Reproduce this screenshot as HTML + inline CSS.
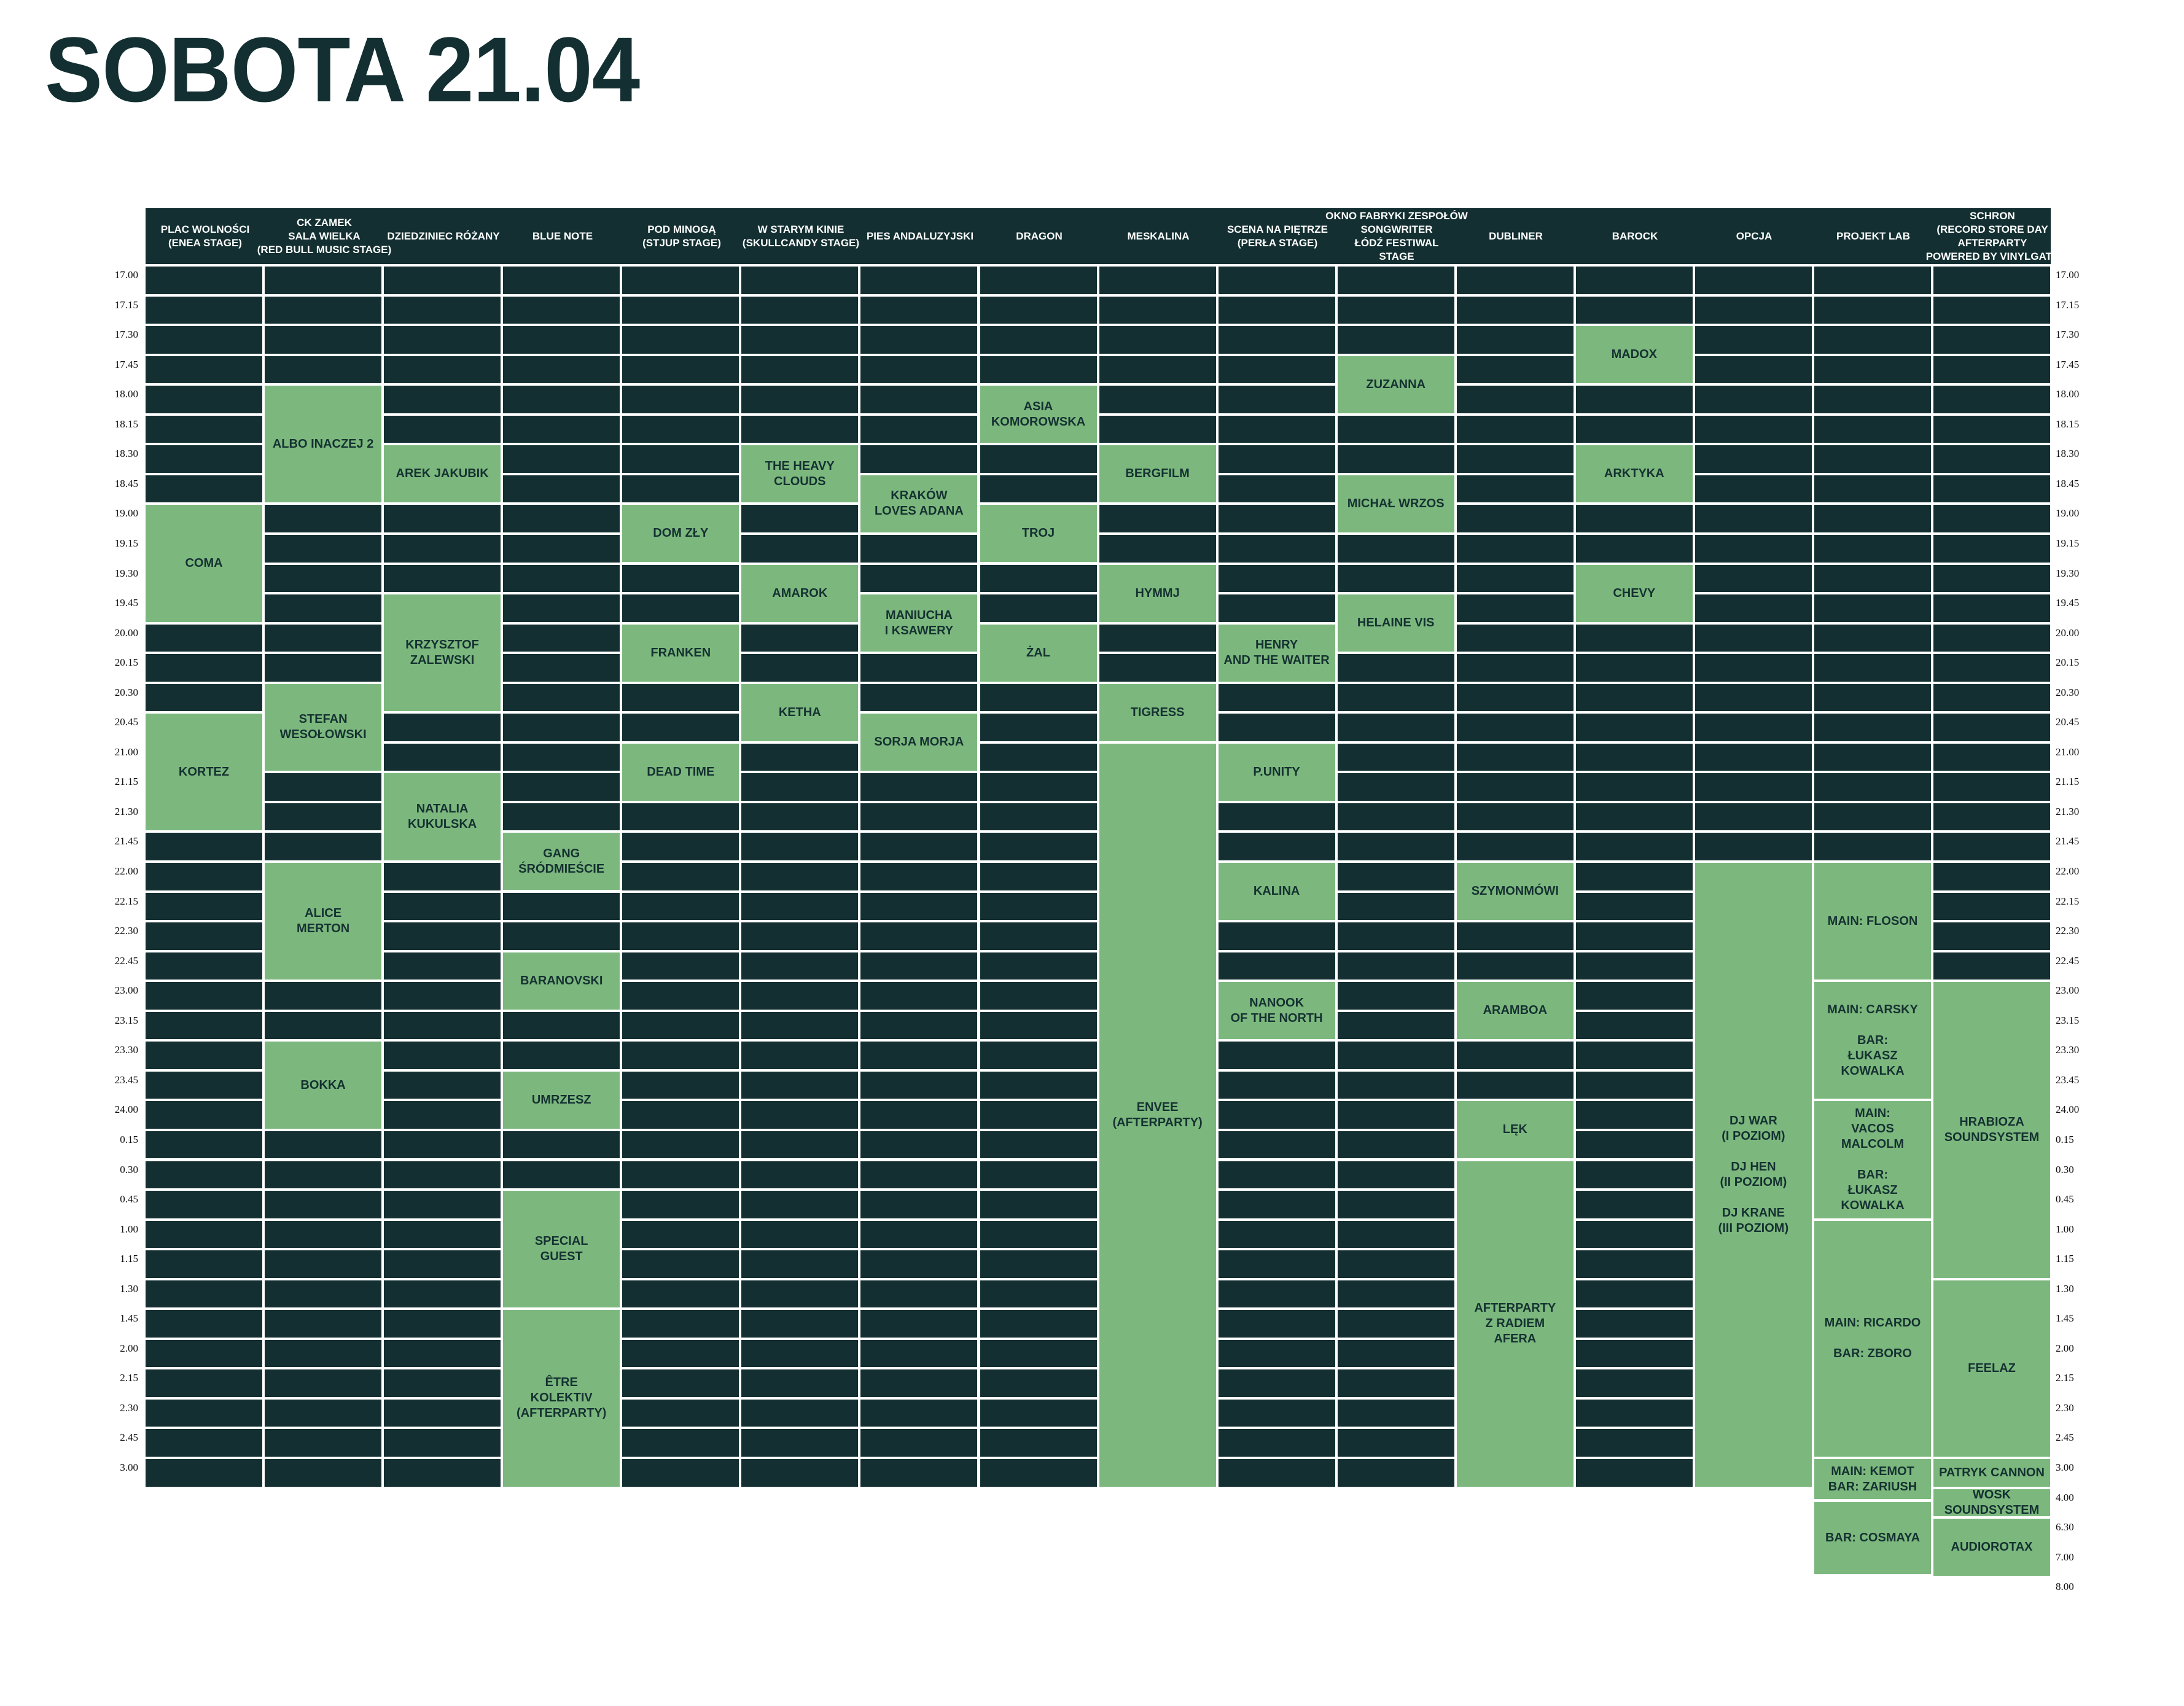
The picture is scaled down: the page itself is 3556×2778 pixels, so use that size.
<!DOCTYPE html>
<html><head><meta charset="utf-8">
<style>
html,body{margin:0;padding:0;background:#fff;}
body{width:3556px;height:2778px;position:relative;overflow:hidden;font-family:"Liberation Sans",sans-serif;}
#title{position:absolute;left:73px;top:38px;font-size:150px;font-weight:bold;color:#132f31;line-height:150px;transform:scaleX(0.94);transform-origin:0 0;white-space:nowrap;letter-spacing:-1px;}
#hdr{position:absolute;left:237px;top:339px;width:3102px;height:91px;background:#132f31;overflow:hidden;}
.h{position:absolute;top:0;height:91px;width:194px;display:flex;align-items:center;justify-content:center;text-align:center;color:#fff;font-weight:bold;font-size:17px;line-height:22px;white-space:nowrap;}
.c{position:absolute;width:190px;background:#132f31;}
.g{position:absolute;width:190px;background:#7cb87e;display:flex;align-items:center;justify-content:center;text-align:center;color:#153131;font-weight:bold;font-size:20px;line-height:25px;white-space:nowrap;}
.tl{position:absolute;font-family:"Liberation Serif",serif;font-size:17px;color:#111;line-height:20px;}
</style></head><body>
<div id="title">SOBOTA 21.04</div>
<div id="hdr">
<div class="h" style="left:0">PLAC WOLNOŚCI<br>(ENEA STAGE)</div>
<div class="h" style="left:194px">CK ZAMEK<br>SALA WIELKA<br>(RED BULL MUSIC STAGE)</div>
<div class="h" style="left:388px">DZIEDZINIEC RÓŻANY</div>
<div class="h" style="left:582px">BLUE NOTE</div>
<div class="h" style="left:776px">POD MINOGĄ<br>(STJUP STAGE)</div>
<div class="h" style="left:970px">W STARYM KINIE<br>(SKULLCANDY STAGE)</div>
<div class="h" style="left:1164px">PIES ANDALUZYJSKI</div>
<div class="h" style="left:1358px">DRAGON</div>
<div class="h" style="left:1552px">MESKALINA</div>
<div class="h" style="left:1746px">SCENA NA PIĘTRZE<br>(PERŁA STAGE)</div>
<div class="h" style="left:1940px">OKNO FABRYKI ZESPOŁÓW<br>SONGWRITER<br>ŁÓDŹ FESTIWAL<br>STAGE</div>
<div class="h" style="left:2134px">DUBLINER</div>
<div class="h" style="left:2328px">BAROCK</div>
<div class="h" style="left:2522px">OPCJA</div>
<div class="h" style="left:2716px">PROJEKT LAB</div>
<div class="h" style="left:2910px">SCHRON<br>(RECORD STORE DAY<br>AFTERPARTY<br>POWERED BY VINYLGATE</div>
</div>
<div id="grid"></div>
<script>
var P=48.55,T=434,L=237,CP=194.07;
var ev=[
[0,8,4,"COMA"],[0,15,4,"KORTEZ"],
[1,4,4,"ALBO INACZEJ 2"],[1,14,3,"STEFAN<br>WESOŁOWSKI"],[1,20,4,"ALICE<br>MERTON"],[1,26,3,"BOKKA"],
[2,6,2,"AREK JAKUBIK"],[2,11,4,"KRZYSZTOF<br>ZALEWSKI"],[2,17,3,"NATALIA<br>KUKULSKA"],
[3,19,2,"GANG<br>ŚRÓDMIEŚCIE"],[3,23,2,"BARANOVSKI"],[3,27,2,"UMRZESZ"],[3,31,4,"SPECIAL<br>GUEST"],[3,35,6,"ÊTRE<br>KOLEKTIV<br>(AFTERPARTY)"],
[4,8,2,"DOM ZŁY"],[4,12,2,"FRANKEN"],[4,16,2,"DEAD TIME"],
[5,6,2,"THE HEAVY<br>CLOUDS"],[5,10,2,"AMAROK"],[5,14,2,"KETHA"],
[6,7,2,"KRAKÓW<br>LOVES ADANA"],[6,11,2,"MANIUCHA<br>I KSAWERY"],[6,15,2,"SORJA MORJA"],
[7,4,2,"ASIA<br>KOMOROWSKA"],[7,8,2,"TROJ"],[7,12,2,"ŻAL"],
[8,6,2,"BERGFILM"],[8,10,2,"HYMMJ"],[8,14,2,"TIGRESS"],[8,16,25,"ENVEE<br>(AFTERPARTY)"],
[9,12,2,"HENRY<br>AND THE WAITER"],[9,16,2,"P.UNITY"],[9,20,2,"KALINA"],[9,24,2,"NANOOK<br>OF THE NORTH"],
[10,3,2,"ZUZANNA"],[10,7,2,"MICHAŁ WRZOS"],[10,11,2,"HELAINE VIS"],
[11,20,2,"SZYMONMÓWI"],[11,24,2,"ARAMBOA"],[11,28,2,"LĘK"],[11,30,11,"AFTERPARTY<br>Z RADIEM<br>AFERA"],
[12,2,2,"MADOX"],[12,6,2,"ARKTYKA"],[12,10,2,"CHEVY"],
[13,20,21,"DJ WAR<br>(I POZIOM)<br><br>DJ HEN<br>(II POZIOM)<br><br>DJ KRANE<br>(III POZIOM)"],
[14,20,4,"MAIN: FLOSON"],[14,24,4,"MAIN: CARSKY<br><br>BAR:<br>ŁUKASZ<br>KOWALKA"],[14,28,4,"MAIN:<br>VACOS<br>MALCOLM<br><br>BAR:<br>ŁUKASZ<br>KOWALKA"],[14,32,8,"MAIN: RICARDO<br><br>BAR: ZBORO"],
[15,24,10,"HRABIOZA<br>SOUNDSYSTEM"],[15,34,6,"FEELAZ"],[15,40,1,"PATRYK CANNON"],[15,41,1,"WOSK<br>SOUNDSYSTEM"],[15,42,2,"AUDIOROTAX"]
];
var occ={},h="";
ev.forEach(function(e){for(var r=e[1];r<e[1]+e[2];r++)occ[e[0]+"_"+r]=1;
 var x=L+e[0]*CP,y=T+e[1]*P,ht=e[2]*P-4;
 h+='<div class="g" style="left:'+x.toFixed(1)+'px;top:'+y.toFixed(1)+'px;height:'+ht.toFixed(1)+'px">'+e[3]+'</div>';});
h+='<div class="g" style="left:'+(L+14*CP).toFixed(1)+'px;top:'+(T+40*P).toFixed(1)+'px;height:65px">MAIN: KEMOT<br>BAR: ZARIUSH</div>';
h+='<div class="g" style="left:'+(L+14*CP).toFixed(1)+'px;top:'+(T+40*P+70).toFixed(1)+'px;height:117px">BAR: COSMAYA</div>';
occ["14_40"]=1;
for(var c=0;c<16;c++)for(var r=0;r<=40;r++){if(occ[c+"_"+r])continue;
 h+='<div class="c" style="left:'+(L+c*CP).toFixed(1)+'px;top:'+(T+r*P).toFixed(1)+'px;height:'+(P-4).toFixed(1)+'px"></div>';}
var lab=[];for(var i=0;i<=40;i++){var m=17*60+i*15,hh=Math.floor(m/60),mm=m%60;if(hh>24)hh-=24;if(hh==24&&mm>0)hh=0;lab.push(hh+"."+(mm<10?"0":"")+mm);}
lab.forEach(function(t,i){var y=T+i*P+4;
 h+='<div class="tl" style="right:'+(3556-225)+'px;top:'+y.toFixed(1)+'px">'+t+'</div>';
 h+='<div class="tl" style="left:3347px;top:'+y.toFixed(1)+'px">'+t+'</div>';});
["4.00","6.30","7.00","8.00"].forEach(function(t,i){var y=T+(41+i)*P+4;
 h+='<div class="tl" style="left:3347px;top:'+y.toFixed(1)+'px">'+t+'</div>';});
document.getElementById("grid").innerHTML=h;
</script>
</body></html>
